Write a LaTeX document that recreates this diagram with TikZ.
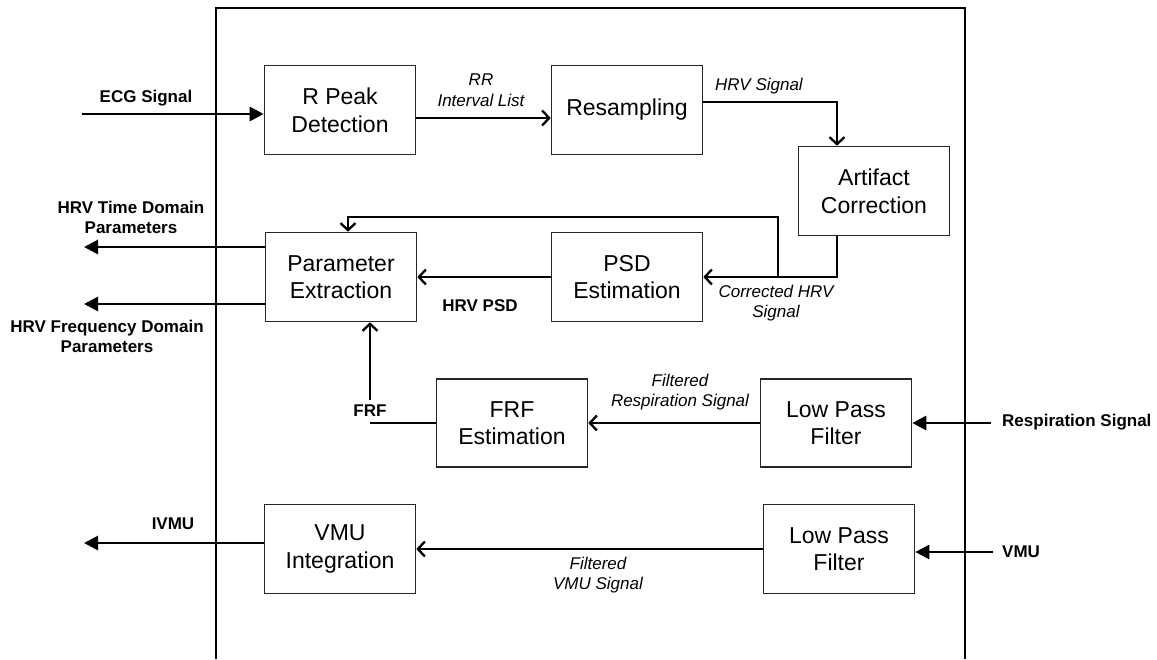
\documentclass[tikz,border=0pt]{standalone}
\usepackage{fontspec}
\setmainfont{Liberation Sans}
\usetikzlibrary{arrows.meta,calc}

\tikzset{
  blk/.style={draw=black!85, line width=1.6pt, minimum width=151pt, minimum height=89pt,
    inner sep=0pt, align=center, font=\fontsize{23}{27.6}\selectfont},
  boldlbl/.style={inner sep=0pt, align=center, font=\fontsize{17}{20}\selectfont\bfseries},
  itlbl/.style={inner sep=0pt, align=center, font=\fontsize{17}{20.5}\selectfont\itshape},
  extarrow/.style={line width=2.8pt, -{Triangle[length=14pt,width=14pt]}},
  intarrow/.style={line width=2.3pt, -{Straight Barb[length=7pt,width=15pt,line width=2.3pt]}},
  intline/.style={line width=2.3pt},
  frameline/.style={line width=2.8pt}
}

\begin{document}
\begin{tikzpicture}[x=1pt,y=-1pt]
\useasboundingbox (0,0) rectangle (1157,659);

% processing unit outline (open at the bottom)
\draw[frameline] (216,659) -- (216,8) -- (965,8) -- (965,659);

% blocks
\node[blk] (rpeak)  at (340,110) {R Peak\\Detection};
\node[blk] (resamp) at (627,110) {Resampling};
\node[blk] (artif)  at (874,191) {Artifact\\Correction};
\node[blk] (param)  at (341,277) {Parameter\\Extraction};
\node[blk] (psd)    at (627,277) {PSD\\Estimation};
\node[blk, minimum height=88pt] (frf)  at (512,423) {FRF\\Estimation};
\node[blk, minimum height=88pt] (lpfa) at (836,423) {Low Pass\\Filter};
\node[blk] (vmuint) at (340,549) {VMU\\Integration};
\node[blk] (lpfb)   at (839,549) {Low Pass\\Filter};

% free ends of the external signals
\coordinate (ecgin)  at (82,114);
\coordinate (timeout) at (84,247);
\coordinate (freqout) at (84,304);
\coordinate (ivmuout) at (84,543);
\coordinate (respin) at (991,423);
\coordinate (vmuin)  at (993,552);

% routing points
\coordinate (hrvx) at (837,102);
\coordinate (corr) at (837,277);
\coordinate (fbx)  at (778,277);
\coordinate (fbtop) at (778,217);
\coordinate (fbin) at (348,217);
\coordinate (frfcorner) at (370,423);
\coordinate (frfup) at (370,400);

% external inputs and outputs
\draw[extarrow] (ecgin) -- (ecgin -| rpeak.west);
\draw[extarrow] (timeout -| param.west) -- (timeout);
\draw[extarrow] (freqout -| param.west) -- (freqout);
\draw[extarrow] (ivmuout -| vmuint.west) -- (ivmuout);
\draw[extarrow] (respin) -- (respin -| lpfa.east);
\draw[extarrow] (vmuin) -- (vmuin -| lpfb.east);

% internal flow
\draw[intarrow] ($(rpeak.east)+(0,8)$) -- ($(resamp.west)+(0,8)$);
\draw[intarrow] (hrvx -| resamp.east) -- (hrvx) -- (hrvx |- artif.north);
\draw[intarrow] (corr |- artif.south) -- (corr) -- (corr -| psd.east);
\draw[intarrow] (fbx) -- (fbtop) -- (fbin) -- (fbin |- param.north);
\draw[intarrow] (psd.west) -- (param.east);
\draw[intline] (frf.west) -- (frfcorner);
\draw[intarrow] (frfup) -- (frfup |- param.south);
\draw[intarrow] (lpfa.west) -- (frf.east);
\draw[intarrow] (lpfb.west) -- (vmuint.east);

% signal labels
\node[boldlbl] (ecglbl) at (146,98) {ECG Signal};
\node[itlbl] (rrlbl) at (481,90) {RR\\Interval List};
\node[itlbl] (hrvlbl) at (759,86) {HRV Signal};
\node[itlbl] (corrlbl) at (776,303) {Corrected HRV\\Signal};
\node[boldlbl] (psdlbl) at (480,306) {HRV PSD};
\node[boldlbl] (timelbl) at (131,217) {HRV Time Domain\\Parameters};
\node[boldlbl] (freqlbl) at (107,336) {HRV Frequency Domain\\Parameters};
\node[boldlbl] (frflbl) at (370,411) {FRF};
\node[itlbl] (resplbl) at (680,392) {Filtered\\Respiration Signal};
\node[itlbl] (vmulbl) at (598,575) {Filtered\\VMU Signal};
\node[boldlbl] (ivmulbl) at (173,524) {IVMU};
\node[boldlbl, anchor=west] (respinlbl) at (1002,422) {Respiration Signal};
\node[boldlbl, anchor=west] (vmuinlbl) at (1002,552) {VMU};
\end{tikzpicture}
\end{document}
